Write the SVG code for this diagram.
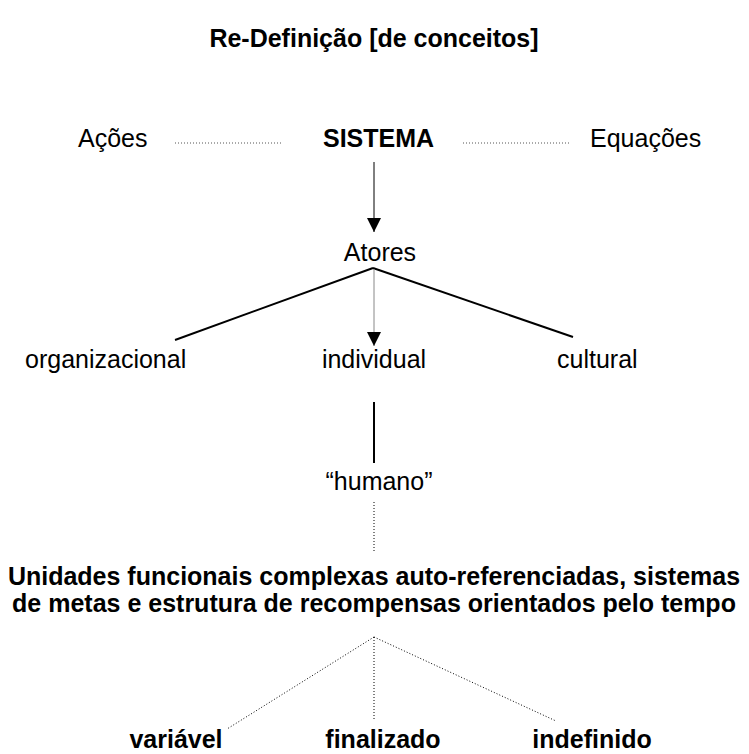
<svg xmlns="http://www.w3.org/2000/svg" width="749" height="754" viewBox="0 0 749 754">
<style>
text{font-family:"Liberation Sans",Arial,sans-serif;font-size:25px;fill:#000}
.b{font-weight:bold}
.dot{stroke:#000;stroke-width:1;stroke-dasharray:1 2;fill:none}
.dotg{stroke:#555;stroke-width:1;stroke-dasharray:1 2;fill:none}
.solid{stroke:#000;stroke-width:2;fill:none}
.thin{stroke:#000;stroke-width:1;fill:none}
</style>
<defs>
<marker id="ah" markerWidth="14" markerHeight="14" refX="14" refY="7" orient="auto" markerUnits="userSpaceOnUse"><path d="M0,0 L14,7 L0,14 Z" fill="#000"/></marker>
</defs>
<g id="title"><text class="b" x="374" y="47" text-anchor="middle" font-size="23.7">Re-Definição [de conceitos]</text></g>
<g id="acoes"><text x="78" y="147">Ações</text></g>
<g id="sistema"><text class="b" x="323" y="147">SISTEMA</text></g>
<g id="equacoes"><text x="590" y="147">Equações</text></g>
<g id="atores"><text x="380" y="261" text-anchor="middle">Atores</text></g>
<g id="organizacional"><text x="25" y="368">organizacional</text></g>
<g id="individual"><text x="374" y="368" text-anchor="middle">individual</text></g>
<g id="cultural"><text x="557" y="368">cultural</text></g>
<g id="humano"><text x="379" y="490" text-anchor="middle">“humano”</text></g>
<g id="unidades"><text class="b" x="374" y="585" text-anchor="middle" font-size="24.5">Unidades funcionais complexas auto-referenciadas, sistemas</text><text class="b" x="374" y="612" text-anchor="middle" font-size="24.5">de metas e estrutura de recompensas orientados pelo tempo</text></g>
<g id="variavel"><text class="b" x="176" y="748" text-anchor="middle">variável</text></g>
<g id="finalizado"><text class="b" x="383" y="748" text-anchor="middle">finalizado</text></g>
<g id="indefinido"><text class="b" x="592" y="748" text-anchor="middle">indefinido</text></g>
<g id="connectors">
<line class="dotg" x1="175" y1="143" x2="282" y2="143"/>
<line class="dotg" x1="463" y1="143" x2="570" y2="143"/>
<line class="thin" x1="374" y1="162" x2="374" y2="232" marker-end="url(#ah)"/>
<line class="solid" x1="373" y1="268" x2="175" y2="340"/>
<line class="solid" x1="373" y1="268" x2="573" y2="337"/>
<line x1="374" y1="269" x2="374" y2="346" stroke="#888" stroke-width="1" marker-end="url(#ah)"/>
<line class="solid" x1="374" y1="402" x2="374" y2="463"/>
<line class="dot" x1="374" y1="502" x2="374" y2="552"/>
<line class="dot" x1="374" y1="637" x2="227" y2="729"/>
<line class="dot" x1="374" y1="637" x2="374" y2="720"/>
<line class="dot" x1="374" y1="637" x2="556" y2="721"/>
</g>
</svg>
